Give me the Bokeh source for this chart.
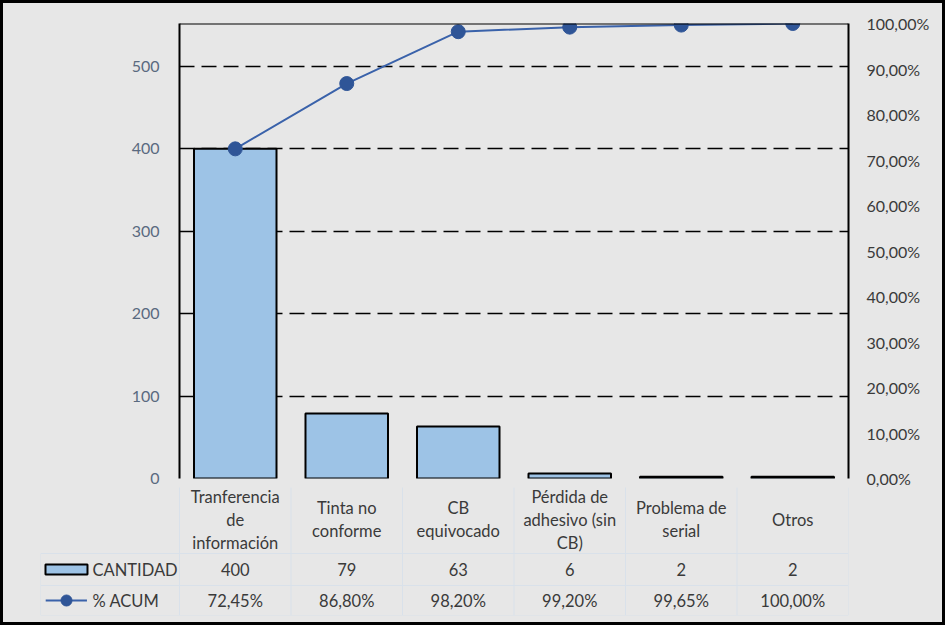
from bokeh.plotting import figure
from bokeh.models import FactorRange, Range1d, LinearAxis, FixedTicker, Span
from bokeh.layouts import column, row
from bokeh.embed import file_html
from bokeh.resources import INLINE
from bokeh.core.properties import value

# ---------------- data ----------------
categories = ["Tranferencia de información", "Tinta no conforme", "CB equivocado",
              "Pérdida de adhesivo (sin CB)", "Problema de serial", "Otros"]
category_labels = ["Tranferencia\nde\ninformación", "Tinta no\nconforme", "CB\nequivocado",
                   "Pérdida de\nadhesivo (sin\nCB)", "Problema de\nserial", "Otros"]
cantidad = [400, 79, 63, 6, 2, 2]
pct_acum = [72.45, 86.80, 98.20, 99.20, 99.65, 100.00]
left_ticks = [0, 100, 200, 300, 400, 500]
grid_ticks = [100, 200, 300, 400, 500]
pct_ticks = [0, 10, 20, 30, 40, 50, 60, 70, 80, 90, 100]
pct_tick_labels = ["0,00%", "10,00%", "20,00%", "30,00%", "40,00%", "50,00%",
                   "60,00%", "70,00%", "80,00%", "90,00%", "100,00%"]
series_names = ["CANTIDAD", "% ACUM"]

# ---------------- style ----------------
FONT = "Lato"
BG = "#e7e7e7"
BAR = "#9dc3e6"
LINE = "#3a62aa"
MARK = "#2f5597"
TXT = "#3a3a3a"
LEFT_TXT = "#5a6a80"
TABLE_LINE = "#d9e1ea"

total = sum(cantidad)
n = len(categories)

# ---------------- chart ----------------
p = figure(width=939, height=484, x_range=FactorRange(*categories), y_range=Range1d(0, total),
           output_backend="svg", toolbar_location=None, x_axis_location=None,
           min_border_left=176, min_border_right=94, min_border_top=20, min_border_bottom=9,
           background_fill_color=BG, border_fill_color=BG, outline_line_color=None)

p.yaxis.ticker = FixedTicker(ticks=left_ticks)
p.yaxis.axis_line_color = "black"
p.yaxis.axis_line_width = 2
p.yaxis.major_tick_line_color = None
p.yaxis.minor_tick_line_color = None
p.yaxis.major_label_standoff = 14
p.yaxis.major_label_text_font = FONT
p.yaxis.major_label_text_font_size = "16px"
p.yaxis.major_label_text_color = LEFT_TXT

p.extra_y_ranges = {"pct": Range1d(0, 100)}
rax = LinearAxis(y_range_name="pct", ticker=FixedTicker(ticks=pct_ticks),
                 major_label_overrides={t: l for t, l in zip(pct_ticks, pct_tick_labels)},
                 axis_line_color="black", axis_line_width=2,
                 major_tick_line_color=None, minor_tick_line_color=None,
                 major_label_standoff=12, major_label_text_font=FONT,
                 major_label_text_font_size="16px", major_label_text_color=TXT)
p.add_layout(rax, "right")

p.add_layout(Span(location=total, dimension="width", line_color="black", line_width=2))

p.xgrid.visible = False
p.ygrid.ticker = FixedTicker(ticks=grid_ticks)
p.ygrid.grid_line_color = "black"
p.ygrid.grid_line_width = 1.5
p.ygrid.grid_line_dash = "15 7"

p.vbar(x=categories, top=cantidad, width=0.74, fill_color=BAR, line_color="black", line_width=2)
p.line(x=categories, y=pct_acum, y_range_name="pct", line_color=LINE, line_width=2)
p.scatter(x=categories, y=pct_acum, y_range_name="pct", size=14, fill_color=MARK, line_color=MARK)

# ---------------- data table ----------------
xl = -139 / 111.5
t = figure(width=939, height=135, x_range=Range1d(xl, n), y_range=Range1d(137, 9),
           output_backend="svg", toolbar_location=None, x_axis_location=None, y_axis_location=None,
           min_border_left=37, min_border_right=94, min_border_top=0, min_border_bottom=7,
           background_fill_color=BG, border_fill_color=BG, outline_line_color=None)
t.grid.visible = False

rows = [0, 75, 107, 137]
# table grid
t.segment(x0=[xl, xl, xl], y0=rows[1:], x1=[n] * 3, y1=rows[1:], line_color=TABLE_LINE, line_width=1)
t.segment(x0=list(range(n + 1)) + [xl], y0=[0] * (n + 1) + [75],
          x1=list(range(n + 1)) + [xl], y1=[137] * (n + 2), line_color=TABLE_LINE, line_width=1)

xs = [i + 0.5 for i in range(n)]
row_mid = [(rows[i] + rows[i + 1]) / 2 for i in range(3)]
common = dict(text_align="center", text_baseline="middle", text_font=value(FONT),
              text_font_size="16.5px", text_color=TXT)
t.text(x=xs, y=[row_mid[0] + 3.5] * n, text=category_labels, text_line_height=1.15, **common)
t.text(x=xs, y=[row_mid[1]] * n, text=[str(v) for v in cantidad], **common)
t.text(x=xs, y=[row_mid[2]] * n,
       text=[f"{v:.2f}%".replace(".", ",") for v in pct_acum], **common)

# legend keys
kx = -1.0135
t.rect(x=[kx], y=[row_mid[1]], width=42, height=10, width_units="screen", height_units="screen",
       fill_color=BAR, line_color="black", line_width=2)
t.segment(x0=[-1.2], y0=[row_mid[2]], x1=[-0.83], y1=[row_mid[2]], line_color=LINE, line_width=2)
t.scatter(x=[kx], y=[row_mid[2]], size=11, fill_color=MARK, line_color=MARK)
t.text(x=[-0.78, -0.78], y=row_mid[1:], text=series_names, text_align="left",
       text_baseline="middle", text_font=value(FONT), text_font_size="16.5px", text_color=TXT)

layout = column(p, row(t), styles={"border": "3px solid black", "background-color": BG})

open("out.html", "w").write(file_html(layout, INLINE))
